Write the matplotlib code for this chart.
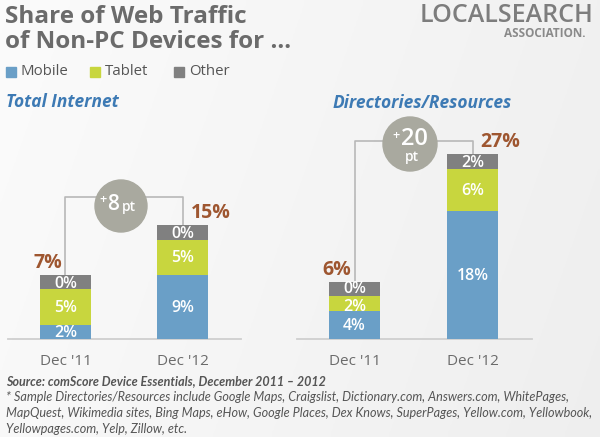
import numpy as np
import matplotlib
matplotlib.use("Agg")
import matplotlib.pyplot as plt
from matplotlib.patches import Circle

# ---------------- data ----------------
panels = ["Total Internet", "Directories/Resources"]
categories = ["Dec '11", "Dec '12"]
mobile_total = [2, 9]
tablet_total = [5, 5]
other_total = [0, 0]
totals_total = [7, 15]
mobile_dir = [4, 18]
tablet_dir = [2, 6]
other_dir = [0, 2]
totals_dir = [6, 27]
changes = ["+8", "+20"]
legend_labels = ["Mobile", "Tablet", "Other"]

# ---------------- style ----------------
W, H = 600, 437
BLUE = "#6a9fc7"
GREEN = "#c8d63e"
GRAY = "#808080"
CIRCLE = "#a9a99f"
BROWN = "#9e5630"
HEAD = "#3d7ab4"
TXT = "#6b6b6b"
MIN_VIS = 2.0   # minimum visible height for a 0% segment
FONT = "Open Sans"

plt.rcParams["font.family"] = [FONT, "DejaVu Sans"]

fig = plt.figure(figsize=(W / 100, H / 100), dpi=100)


def fx(x):
    return x / W


def fy(y):
    return 1 - y / H


# background gradient
bg = fig.add_axes([0, 0, 1, 1], zorder=-5)
grad = np.linspace(0, 1, 256)
gx, gy = np.meshgrid(grad, np.linspace(0, 1, 64))
val = 0.985 - 0.05 * (0.8 * gx + 0.2 * gy)
bg.imshow(np.dstack([val, val, val]), extent=[0, 1, 0, 1], aspect="auto", origin="upper")
bg.set_axis_off()

BASE = 339
TOP = 100
PXPER = 7.1
BARW_PX = 51

panel_geo = [
    dict(x0=7.7, x1=241, c0=65.5, c1=182.5),
    dict(x0=297, x1=532, c0=354.5, c1=472.5),
]
series = [
    (mobile_total, tablet_total, other_total, totals_total),
    (mobile_dir, tablet_dir, other_dir, totals_dir),
]
bracket_px = [197, 141]
circle_px = [(121, 206, 26), (410, 144, 27)]
LBL = dict(ha="center", va="center", color="white", fontsize=11.5,
           fontweight="semibold", zorder=4)

for i, (geo, data) in enumerate(zip(panel_geo, series)):
    mob, tab, oth, tot = data
    unit = geo["c1"] - geo["c0"]
    xmin = -(geo["c0"] - geo["x0"]) / unit
    xmax = xmin + (geo["x1"] - geo["x0"]) / unit
    ax = fig.add_axes([fx(geo["x0"]), fy(BASE), (geo["x1"] - geo["x0"]) / W, (BASE - TOP) / H])
    ax.set_facecolor("none")
    ax.set_xlim(xmin, xmax)
    ax.set_ylim(0, (BASE - TOP) / PXPER)
    x = np.arange(len(categories))
    bw = BARW_PX / unit
    mob = np.array(mob, float)
    tab = np.array(tab, float)
    oth_vis = np.maximum(np.array(oth, float), MIN_VIS)
    ax.bar(x, mob, bw, color=BLUE, zorder=3)
    ax.bar(x, tab, bw, bottom=mob, color=GREEN, zorder=3)
    ax.bar(x, oth_vis, bw, bottom=mob + tab, color=GRAY, zorder=3)
    tops = mob + tab + oth_vis
    for j in range(len(x)):
        small = tab[j] < 3
        ax.text(x[j], mob[j] / 2 - 0.1, f"{int(mob[j])}%", **LBL)
        ax.text(x[j], mob[j] + tab[j] / 2 - (0.45 if small else 0.15), f"{int(tab[j])}%", **LBL)
        ax.text(x[j], mob[j] + tab[j] + oth_vis[j] / 2 - (0.0 if small else 0.25),
                f"{int(oth[j])}%", **LBL)
    # totals
    ax.text(x[0] - 0.03, tops[0] + 1.7, f"{tot[0]}%", ha="right", va="center",
            color=BROWN, fontsize=14, fontweight="bold")
    ax.text(x[1] + 0.07, tops[1] + 1.8, f"{tot[1]}%", ha="left", va="center",
            color=BROWN, fontsize=14, fontweight="bold")
    # bracket
    by = (BASE - bracket_px[i]) / PXPER
    ax.plot([x[0], x[0], x[1], x[1]], [tops[0], by, by, tops[1]], color="#b8b8b8",
            lw=1.2, zorder=1, clip_on=False)
    for s in ["top", "left", "right"]:
        ax.spines[s].set_visible(False)
    ax.spines["bottom"].set_color("#cfcfcf")
    ax.spines["bottom"].set_linewidth(1.3)
    ax.set_yticks([])
    ax.set_xticks(x)
    ax.set_xticklabels(categories, fontsize=11, color=TXT)
    ax.tick_params(axis="x", length=0, pad=11)

# overlay in pixel coordinates for circles
ov = fig.add_axes([0, 0, 1, 1], zorder=10)
ov.set_xlim(0, W)
ov.set_ylim(H, 0)
ov.set_axis_off()
ov.patch.set_alpha(0)
for (cx, cy, r) in circle_px:
    ov.add_patch(Circle((cx, cy), r, color=CIRCLE, zorder=2))

# left circle text
ov.text(102.5, 200, "+", color="white", fontsize=9, fontweight="semibold", ha="center", va="center", zorder=3)
ov.text(113, 205, changes[0][1:], color="white", fontsize=15, fontweight="semibold", ha="center", va="center", zorder=3)
ov.text(129, 207, "pt", color="white", fontsize=10, fontweight="semibold", ha="center", va="center", zorder=3)
# right circle text
ov.text(396, 136, "+", color="white", fontsize=9, fontweight="semibold", ha="center", va="center", zorder=3)
ov.text(414, 139, changes[1][1:], color="white", fontsize=17, fontweight="semibold", ha="center", va="center", zorder=3)
ov.text(412, 157, "pt", color="white", fontsize=10, fontweight="semibold", ha="center", va="center", zorder=3)

# title
fig.text(fx(5), fy(17), "Share of Web Traffic", fontsize=17.5, fontweight="bold", color=TXT,
         ha="left", va="center")
fig.text(fx(5), fy(42), "of Non-PC Devices for …", fontsize=17.5, fontweight="bold", color=TXT,
         ha="left", va="center")

# logo
fig.text(fx(593), fy(15.5), "LOCALSEARCH", fontsize=18, fontweight="semibold", color="#7d7d7d",
         ha="right", va="center")
fig.text(fx(585), fy(33.5), "ASSOCIATION.", fontsize=8.5, fontweight="bold", color="#8a8a8a",
         ha="right", va="center")

# legend
leg_x = [6, 90, 174]
leg_c = [BLUE, GREEN, GRAY]
for lx, lc, lab in zip(leg_x, leg_c, legend_labels):
    ov.add_patch(plt.Rectangle((lx, 66.5), 10, 10, color=lc))
    ov.text(lx + 15, 71.5, lab, fontsize=10.8, color="#555555", ha="left", va="center")

# panel headings
fig.text(fx(6), fy(102), panels[0], fontsize=12.5, fontweight="bold", style="italic",
         color=HEAD, ha="left", va="center")
fig.text(fx(333), fy(103), panels[1], fontsize=12.5, fontweight="bold", style="italic",
         color=HEAD, ha="left", va="center")

# footer
foot = [
    "* Sample Directories/Resources include Google Maps, Craigslist, Dictionary.com, Answers.com, WhitePages,",
    "MapQuest, Wikimedia sites, Bing Maps, eHow, Google Places, Dex Knows, SuperPages, Yellow.com, Yellowbook,",
    "Yellowpages.com, Yelp, Zillow, etc.",
]
fig.text(fx(6), fy(381), "Source: comScore Device Essentials, December 2011 \u2013 2012", fontsize=9,
         fontweight="bold", style="italic", color="#555555", ha="left", va="center",
         family=["Lato", "DejaVu Sans"])
for k, line in enumerate(foot):
    fig.text(fx(6), fy(397 + 16 * k), line, fontsize=9.1, style="italic", color="#555555",
             ha="left", va="center", family=["Lato", "DejaVu Sans"])

fig.savefig("out.png", dpi=100)
